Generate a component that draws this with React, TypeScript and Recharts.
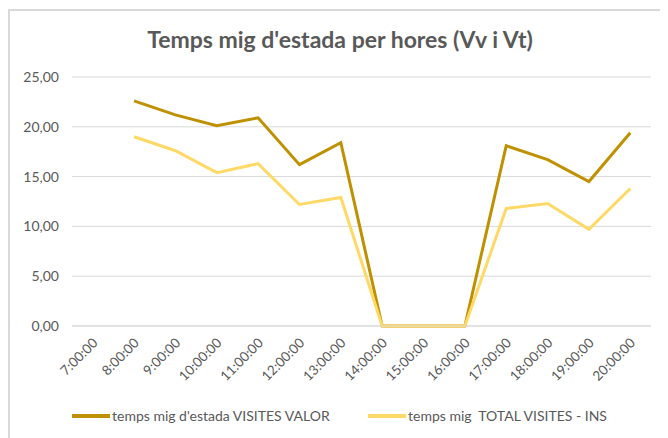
import React from "react";
import { LineChart, Line, XAxis, YAxis, CartesianGrid } from "recharts";

const hours = ["7:00:00", "8:00:00", "9:00:00", "10:00:00", "11:00:00", "12:00:00", "13:00:00", "14:00:00", "15:00:00", "16:00:00", "17:00:00", "18:00:00", "19:00:00", "20:00:00"];
const valor: (number | null)[] = [null, 22.6, 21.2, 20.1, 20.9, 16.2, 18.4, 0, 0, 0, 18.1, 16.7, 14.5, 19.4];
const ins: (number | null)[] = [null, 19.0, 17.6, 15.4, 16.3, 12.2, 12.9, 0, 0, 0, 11.8, 12.3, 9.7, 13.8];
const yTicks = [0, 5, 10, 15, 20, 25];

const seriesNames = ["temps mig d'estada VISITES VALOR", "temps mig  TOTAL VISITES - INS"];
const colors = ["#BF9000", "#FFD966"];

const data = hours.map((h, i) => ({ hour: h, valor: valor[i], ins: ins[i] }));

const FONT = "Lato, 'Open Sans', sans-serif";

const XTick = (props: any) => {
  const { x, y, payload } = props;
  return (
    <g transform={`translate(${x + 3},${y + 7})`}>
      <text textAnchor="end" transform="rotate(-45)" fill="#595959" fontSize={13.5} fontFamily={FONT} dy={4}>
        {payload.value}
      </text>
    </g>
  );
};

export default function App() {
  return (
    <div style={{ position: "relative", width: 660, height: 430, overflow: "hidden", background: "#fff" }}>
      <div style={{ position: "absolute", left: 0, top: 1, width: 700, height: 500, borderTop: "2px solid #d9d9d9", borderLeft: "2px solid #d9d9d9" }} />
      <div style={{ position: "absolute", left: 0, top: 0 }}>
        <LineChart width={660} height={430} data={data} margin={{ top: 69, right: 17, left: 14, bottom: 50 }}>
          <text x={332} y={40} textAnchor="middle" fill="#595959" fontSize={23} fontWeight="bold" fontFamily={FONT}>
            Temps mig d'estada per hores (Vv i Vt)
          </text>
          <CartesianGrid horizontal={true} vertical={false} stroke="#d9d9d9" strokeWidth={1} />
          <XAxis dataKey="hour" interval={0} height={62} padding={{ left: 20.7, right: 20.7 }} axisLine={{ stroke: "#d9d9d9" }} tickLine={false} tick={<XTick />} />
          <YAxis
            domain={[0, 25]}
            ticks={yTicks}
            width={50}
            axisLine={false}
            tickLine={false}
            dx={-5}
            tick={{ fill: "#595959", fontSize: 14, fontFamily: FONT }}
            tickFormatter={(v: number) => v.toFixed(2).replace(".", ",")}
          />
          <Line type="linear" dataKey="valor" stroke={colors[0]} strokeWidth={3} dot={false} isAnimationActive={false} connectNulls={false} />
          <Line type="linear" dataKey="ins" stroke={colors[1]} strokeWidth={3} dot={false} isAnimationActive={false} connectNulls={false} />
        </LineChart>
      </div>
      {[0, 1].map((i) => (
        <div key={i} style={{ position: "absolute", left: i === 0 ? 64 : 360, top: 399, display: "flex", alignItems: "center", fontFamily: FONT, fontSize: 14, color: "#595959", whiteSpace: "pre" }}>
          <div style={{ width: 38, height: 4, background: colors[i], marginRight: 2 }} />
          <span>{seriesNames[i]}</span>
        </div>
      ))}
    </div>
  );
}
